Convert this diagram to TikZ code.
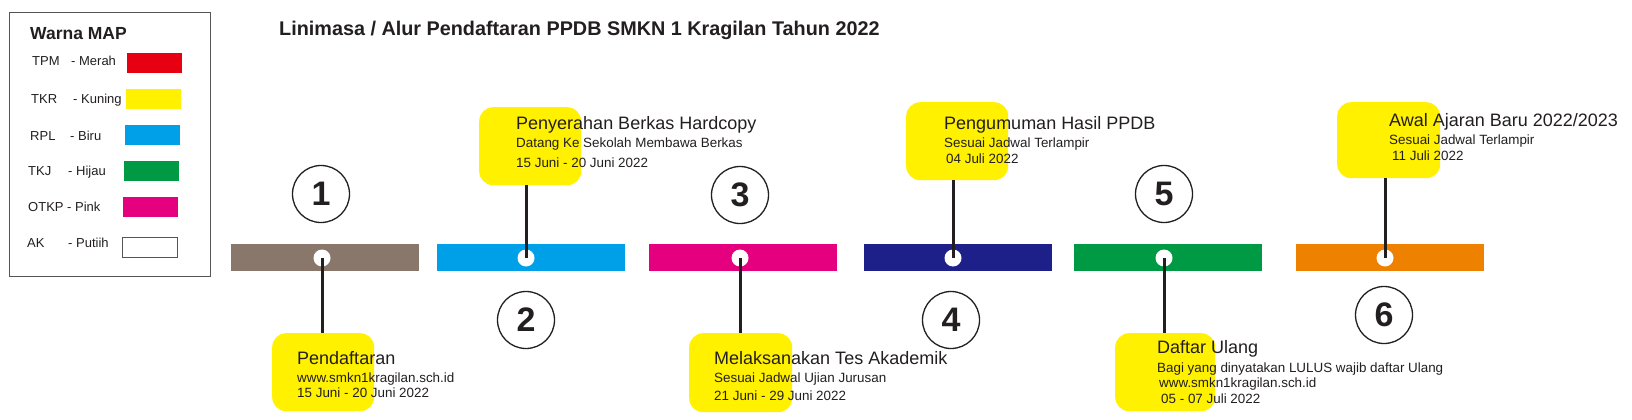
\documentclass[tikz,border=0pt]{standalone}
\usepackage{fontspec}
\setmainfont{Liberation Sans}
\definecolor{inkblack}{HTML}{231F20}
\definecolor{boxgray}{HTML}{555555}
\definecolor{mapred}{HTML}{E60012}
\definecolor{mapyellow}{HTML}{FFF100}
\definecolor{mapblue}{HTML}{00A0E9}
\definecolor{mapgreen}{HTML}{009944}
\definecolor{mappink}{HTML}{E4007F}
\definecolor{barbrown}{HTML}{8A776B}
\definecolor{barnavy}{HTML}{1D2088}
\definecolor{barorange}{HTML}{EE8100}

\begin{document}
\begin{tikzpicture}[
    x=1pt, y=-1pt,
    legendbox/.style={
      rectangle, draw=boxgray, line width=1.3pt,
      anchor=north west, inner sep=0pt,
      minimum width=201pt, minimum height=264pt,
    },
    swatch/.style={
      rectangle, anchor=north west, inner sep=0pt,
      minimum width=55pt, minimum height=20pt,
    },
    bar/.style={
      rectangle, draw=none, inner sep=0pt,
      minimum width=188pt, minimum height=27pt,
    },
    dot/.style={circle, fill=white, minimum size=17pt, inner sep=0pt},
    numcirc/.style={
      circle, draw=inkblack, line width=1.3pt,
      minimum size=57pt, inner sep=0pt,
      font=\fontsize{34}{38}\selectfont\bfseries, text=inkblack,
    },
    notebox/.style={
      rectangle, rounded corners=14pt, fill=mapyellow, draw=none,
      anchor=north west, inner sep=0pt,
      minimum width=102pt, minimum height=78pt,
    },
    stem/.style={draw=inkblack, line width=3pt},
    headtxt/.style={anchor=base west, inner sep=0pt,
      font=\fontsize{18}{21}\selectfont, text=inkblack},
    subtxt/.style={anchor=base west, inner sep=0pt,
      font=\fontsize{13.4}{16}\selectfont, text=inkblack},
    legtxt/.style={anchor=base west, inner sep=0pt,
      font=\fontsize{13}{15}\selectfont, text=inkblack},
  ]
  \useasboundingbox[fill=white] (0,0) rectangle (1632,420);

  % ================================================================
  %  LEGEND  --  Warna MAP
  % ================================================================
  \node[legendbox] (legend) at (9,12) {};
  \node[anchor=base west, inner sep=0pt, font=\fontsize{17.5}{20}\selectfont\bfseries,
    text=inkblack] (legtitle) at (30,40) {Warna MAP};
  \foreach \lid/\y/\kx/\key/\nx/\name/\sx/\sy/\col in {
      tpm/66/32/TPM/71/Merah/127/53/mapred,
      tkr/103/31/TKR/73/Kuning/126/89/mapyellow,
      rpl/140/30/RPL/70/Biru/125/125/mapblue,
      tkj/175/28/TKJ/68/Hijau/124/161/mapgreen,
      otkp/211/28/OTKP/67/Pink/123/197/mappink} {
    \node[legtxt] (lk\lid) at (\kx,\y) {\key};
    \node[legtxt] (ln\lid) at (\nx,\y) {- \name};
    \node[swatch, fill=\col] (sw\lid) at (\sx,\sy) {};
  }
  \node[legtxt] (lkak) at (27,247.5) {AK};
  \node[legtxt] (lnak) at (68,247.5) {- Putiih};
  \node[swatch, fill=white, draw=boxgray, line width=1pt] (swak) at (122,237) {};

  % ================================================================
  %  TITLE
  % ================================================================
  \node[anchor=base west, inner sep=0pt, font=\fontsize{19.8}{23}\selectfont\bfseries,
    text=inkblack] (title) at (279,36)
    {Linimasa / Alur Pendaftaran PPDB SMKN 1 Kragilan Tahun 2022};

  % ================================================================
  %  TIMELINE BARS + DOTS + NUMBERS
  % ================================================================
  \foreach \sid/\bx/\dx/\col/\nx/\ny in {
      1/325/322/barbrown/321/194,
      2/530.5/526/mapblue/526/320,
      3/742.5/740/mappink/740/195,
      4/958/953/barnavy/951/320,
      5/1168/1164/mapgreen/1164/194,
      6/1389.5/1385/barorange/1384/315} {
    \node[bar, fill=\col] (bar\sid) at (\bx,257.5) {};
    \node[dot] (dot\sid) at (\dx,258) {};
    \node[numcirc] (num\sid) at (\nx,\ny) {\sid};
  }

  % ================================================================
  %  NOTE BOXES
  % ================================================================
  \node[notebox] (note1) at (272,333) {};
  \node[notebox] (note2) at (479,107) {};
  \node[notebox, minimum width=103pt, minimum height=79pt] (note3) at (689,333) {};
  \node[notebox] (note4) at (906,102) {};
  \node[notebox, minimum width=100pt] (note5) at (1115,333) {};
  \node[notebox, minimum width=103pt, minimum height=76pt] (note6) at (1337,102) {};

  % -- stems --
  \foreach \sid/\side in {1/north, 2/south, 3/north, 4/south, 5/north, 6/south} {
    \draw[stem] (dot\sid.center) -- (dot\sid.center |- note\sid.\side);
  }

  % ================================================================
  %  NOTE TEXTS
  % ================================================================
  \node[headtxt] (head1) at (297,364) {Pendaftaran};
  \node[subtxt] (suba1) at (297,382) {www.smkn1kragilan.sch.id};
  \node[subtxt] (subb1) at (297,397) {15 Juni - 20 Juni 2022};

  \node[headtxt] (head2) at (516,129) {Penyerahan Berkas Hardcopy};
  \node[subtxt] (suba2) at (516,147) {Datang Ke Sekolah Membawa Berkas};
  \node[subtxt] (subb2) at (516,167) {15 Juni - 20 Juni 2022};

  \node[headtxt] (head3) at (714,364) {Melaksanakan Tes Akademik};
  \node[subtxt] (suba3) at (714,382) {Sesuai Jadwal Ujian Jurusan};
  \node[subtxt] (subb3) at (714,400) {21 Juni - 29 Juni 2022};

  \node[headtxt] (head4) at (944,129) {Pengumuman Hasil PPDB};
  \node[subtxt] (suba4) at (944,147) {Sesuai Jadwal Terlampir};
  \node[subtxt] (subb4) at (946,163) {04 Juli 2022};

  \node[headtxt] (head5) at (1157,353) {Daftar Ulang};
  \node[subtxt] (suba5) at (1157,372) {Bagi yang dinyatakan LULUS wajib daftar Ulang};
  \node[subtxt] (subb5) at (1159,387) {www.smkn1kragilan.sch.id};
  \node[subtxt] (subc5) at (1161,403) {05 - 07 Juli 2022};

  \node[headtxt] (head6) at (1389,126) {Awal Ajaran Baru 2022/2023};
  \node[subtxt] (suba6) at (1389,144) {Sesuai Jadwal Terlampir};
  \node[subtxt] (subb6) at (1392,160) {11 Juli 2022};

\end{tikzpicture}
\end{document}
